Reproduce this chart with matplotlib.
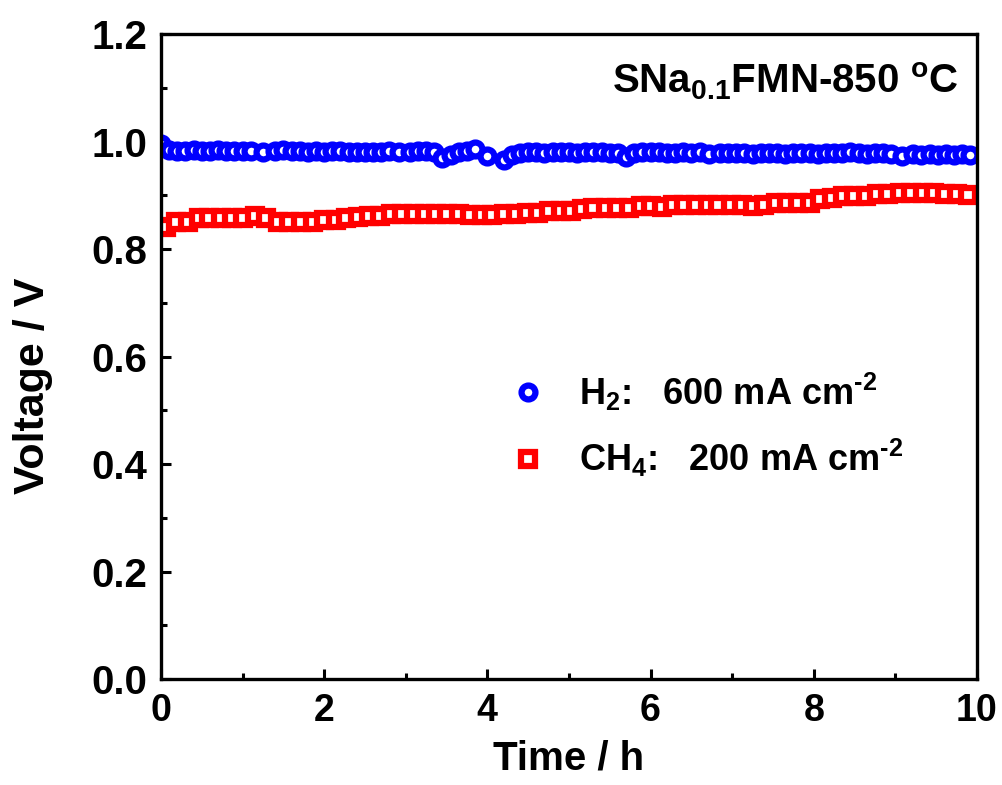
import matplotlib
matplotlib.use("Agg")
import matplotlib.pyplot as plt
from matplotlib.ticker import MultipleLocator

plt.rcParams['font.family'] = ['Liberation Sans', 'DejaVu Sans']
plt.rcParams['font.weight'] = 'bold'
plt.rcParams['mathtext.fontset'] = 'custom'
plt.rcParams['mathtext.rm'] = 'Liberation Sans:bold'
plt.rcParams['mathtext.it'] = 'Liberation Sans:bold'
plt.rcParams['mathtext.bf'] = 'Liberation Sans:bold'
plt.rcParams['mathtext.default'] = 'rm'

# H2 fuel, 600 mA cm-2
h2_time = [0.00, 0.10, 0.20, 0.30, 0.40, 0.50, 0.60, 0.70, 0.80, 0.90,
           1.00, 1.10, 1.25, 1.40, 1.50, 1.60, 1.70, 1.80, 1.90, 2.00,
           2.10, 2.20, 2.30, 2.40, 2.50, 2.60, 2.70, 2.80, 2.92, 3.05,
           3.15, 3.25, 3.35, 3.45, 3.55, 3.65, 3.75, 3.85, 4.00, 4.20,
           4.30, 4.40, 4.50, 4.60, 4.70, 4.80, 4.90, 5.00, 5.10, 5.20,
           5.30, 5.40, 5.50, 5.60, 5.70, 5.80, 5.90, 6.00, 6.10, 6.20,
           6.30, 6.40, 6.50, 6.60, 6.72, 6.85, 6.95, 7.05, 7.15, 7.25,
           7.35, 7.45, 7.55, 7.65, 7.75, 7.85, 7.95, 8.05, 8.15, 8.25,
           8.35, 8.45, 8.55, 8.65, 8.75, 8.85, 8.95, 9.08, 9.22, 9.32,
           9.42, 9.52, 9.62, 9.72, 9.82, 9.92]
h2_volt = [0.996, 0.984, 0.982, 0.983, 0.984, 0.983, 0.983, 0.984, 0.983, 0.982,
           0.983, 0.982, 0.980, 0.983, 0.984, 0.983, 0.982, 0.981, 0.982, 0.981,
           0.982, 0.983, 0.981, 0.980, 0.980, 0.981, 0.981, 0.982, 0.980, 0.981,
           0.982, 0.983, 0.980, 0.969, 0.975, 0.980, 0.982, 0.986, 0.974, 0.965,
           0.975, 0.979, 0.980, 0.980, 0.979, 0.980, 0.981, 0.980, 0.979, 0.980,
           0.981, 0.980, 0.979, 0.978, 0.972, 0.979, 0.980, 0.981, 0.980, 0.979,
           0.978, 0.980, 0.979, 0.980, 0.977, 0.979, 0.978, 0.979, 0.978, 0.977,
           0.978, 0.979, 0.978, 0.977, 0.978, 0.979, 0.978, 0.977, 0.978, 0.978,
           0.979, 0.980, 0.978, 0.977, 0.978, 0.979, 0.977, 0.974, 0.977, 0.976,
           0.977, 0.976, 0.977, 0.976, 0.977, 0.976]

# CH4 fuel, 200 mA cm-2
ch4_time = [0.06, 0.19, 0.33, 0.46, 0.59, 0.73, 0.87, 1.01, 1.15, 1.29,
            1.43, 1.57, 1.71, 1.86, 2.00, 2.14, 2.27, 2.41, 2.55, 2.68,
            2.82, 2.96, 3.10, 3.24, 3.37, 3.51, 3.65, 3.79, 3.93, 4.06,
            4.20, 4.35, 4.49, 4.62, 4.75, 4.90, 5.03, 5.16, 5.30, 5.45,
            5.59, 5.73, 5.88, 6.01, 6.14, 6.28, 6.41, 6.56, 6.70, 6.83,
            6.98, 7.12, 7.26, 7.39, 7.54, 7.67, 7.81, 7.95, 8.08, 8.22,
            8.36, 8.49, 8.64, 8.78, 8.91, 9.06, 9.19, 9.34, 9.47, 9.61,
            9.75, 9.89]
ch4_volt = [0.842, 0.851, 0.851, 0.858, 0.857, 0.857, 0.857, 0.857, 0.861, 0.857,
            0.851, 0.851, 0.851, 0.851, 0.854, 0.854, 0.858, 0.860, 0.862, 0.862,
            0.865, 0.865, 0.865, 0.865, 0.865, 0.865, 0.865, 0.863, 0.863, 0.863,
            0.865, 0.866, 0.868, 0.868, 0.870, 0.871, 0.871, 0.874, 0.876, 0.876,
            0.877, 0.877, 0.881, 0.881, 0.879, 0.883, 0.883, 0.883, 0.883, 0.883,
            0.883, 0.882, 0.881, 0.883, 0.885, 0.885, 0.885, 0.885, 0.894, 0.896,
            0.899, 0.899, 0.899, 0.902, 0.902, 0.904, 0.904, 0.904, 0.904, 0.902,
            0.902, 0.900]

fig = plt.figure(figsize=(10.03, 7.85), dpi=100)
ax = fig.add_axes([0.1605, 0.135, 0.8135, 0.8215])

ax.plot(h2_time, h2_volt, linestyle='none', marker='o', ms=10, mew=4.5,
        mec='#0000FF', mfc='white', label=r'H$_2$:   600 mA cm$^{\text{-2}}$')
ax.plot(ch4_time, ch4_volt, linestyle='none', marker='s', ms=10, mew=4.5,
        mec='#FF0000', mfc='white', label=r'CH$_4$:   200 mA cm$^{\text{-2}}$')

ax.set_xlim(0, 10)
ax.set_ylim(0, 1.2)
ax.xaxis.set_major_locator(MultipleLocator(2))
ax.xaxis.set_minor_locator(MultipleLocator(1))
ax.yaxis.set_major_locator(MultipleLocator(0.2))
ax.yaxis.set_minor_locator(MultipleLocator(0.1))
ax.xaxis.set_major_formatter(plt.FuncFormatter(lambda v, p: f'{v:.0f}'))
ax.yaxis.set_major_formatter(plt.FuncFormatter(lambda v, p: f'{v:.1f}'))

ax.tick_params(which='both', direction='in', width=2.2, pad=10)
ax.tick_params(axis='x', labelsize=27)
ax.tick_params(axis='y', labelsize=29)
ax.tick_params(which='major', length=7)
ax.tick_params(which='minor', length=4.5)
for sp in ax.spines.values():
    sp.set_linewidth(2.4)

ax.set_xlabel('Time / h', fontsize=29, fontweight='bold')
ax.set_ylabel('Voltage / V', fontsize=31, fontweight='bold')
ax.xaxis.set_label_coords(0.5, -0.094)
ax.yaxis.set_label_coords(-0.132, 0.455)

ax.text(0.977, 0.927, r'SNa$_{0.1}$FMN-850 $^{\mathrm{o}}$C', transform=ax.transAxes,
        ha='right', va='center', fontsize=29, fontweight='bold')

leg = ax.legend(loc='center left', bbox_to_anchor=(0.41, 0.394), frameon=False,
                fontsize=26, handlelength=0.8, handletextpad=1.0,
                labelspacing=0.68, numpoints=1, borderpad=0)

fig.savefig('out.png', dpi=100)
